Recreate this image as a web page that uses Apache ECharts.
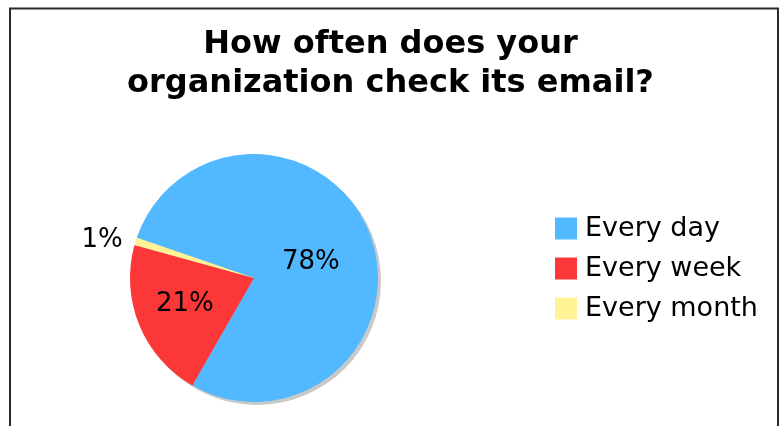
<!DOCTYPE html>
<html>
<head>
<meta charset="utf-8">
<script src="https://cdn.jsdelivr.net/npm/echarts@6/dist/echarts.min.js"></script>
<style>
    html, body { margin: 0; padding: 0; background: #fff; }
    #chart { width: 781px; height: 426px; }
</style>
</head>
<body>
<div id="chart"></div>
<script>
// data
var categories = ['Every day', 'Every week', 'Every month']
var shares = [78, 21, 1]
var colors = ['#52b8ff', '#fc3737', '#fff396']
// small nudges of the inside labels, as in the picture
var labelOffsets = [[-4, 7], [-9, 1], [0, 0]]

var chart = echarts.init(document.getElementById('chart'))

var pieData = []
for (var i = 0; i < categories.length; i++) {
    var item = {
        name: categories[i],
        value: shares[i],
        itemStyle: { color: colors[i] },
        label: { offset: labelOffsets[i] }
    }
    // the tiny slice gets its label outside
    if (shares[i] < 5) {
        item.label = { position: 'outside' }
        item.labelLine = { show: false, length: 4, length2: 4 }
    }
    pieData.push(item)
}
var total = shares.reduce(function (a, b) { return a + b }, 0)

var option = {
    animation: false,
    title: {
        text: 'How often does your\norganization check its email?',
        left: 'center',
        top: 20,
        textStyle: {
            fontFamily: 'DejaVu Sans',
            fontWeight: 'bold',
            fontSize: 32,
            lineHeight: 39,
            color: '#000'
        }
    },
    legend: {
        orient: 'vertical',
        left: 555,
        top: 215,
        padding: 0,
        icon: 'rect',
        itemWidth: 22,
        itemHeight: 22,
        itemGap: 13,
        selectedMode: false,
        data: categories,
        textStyle: {
            fontFamily: 'DejaVu Sans',
            fontSize: 27,
            color: '#000',
            padding: [0, 0, 0, 3]
        }
    },
    graphic: [{
        type: 'rect',
        shape: { x: 10, y: 8.5, width: 768, height: 500 },
        style: { fill: 'none', stroke: '#2b2b2b', lineWidth: 2 },
        silent: true
    }],
    series: [
        {
            // drop shadow disc behind the pie
            type: 'pie',
            silent: true,
            center: [257, 281],
            radius: 124,
            label: { show: false },
            labelLine: { show: false },
            itemStyle: { color: '#c9c9c9' },
            data: [{ name: 'shadow', value: total }],
            z: 1
        },
        {
            type: 'pie',
            center: [254, 278],
            radius: 124,
            startAngle: 161,
            clockwise: true,
            z: 2,
            label: {
                show: true,
                position: 'inside',
                formatter: '{c}%',
                fontFamily: 'DejaVu Sans',
                fontSize: 26,
                color: '#000'
            },
            labelLine: { show: false },
            itemStyle: { borderWidth: 0 },
            emphasis: { disabled: true },
            data: pieData
        }
    ]
}
chart.setOption(option)
</script>
</body>
</html>
